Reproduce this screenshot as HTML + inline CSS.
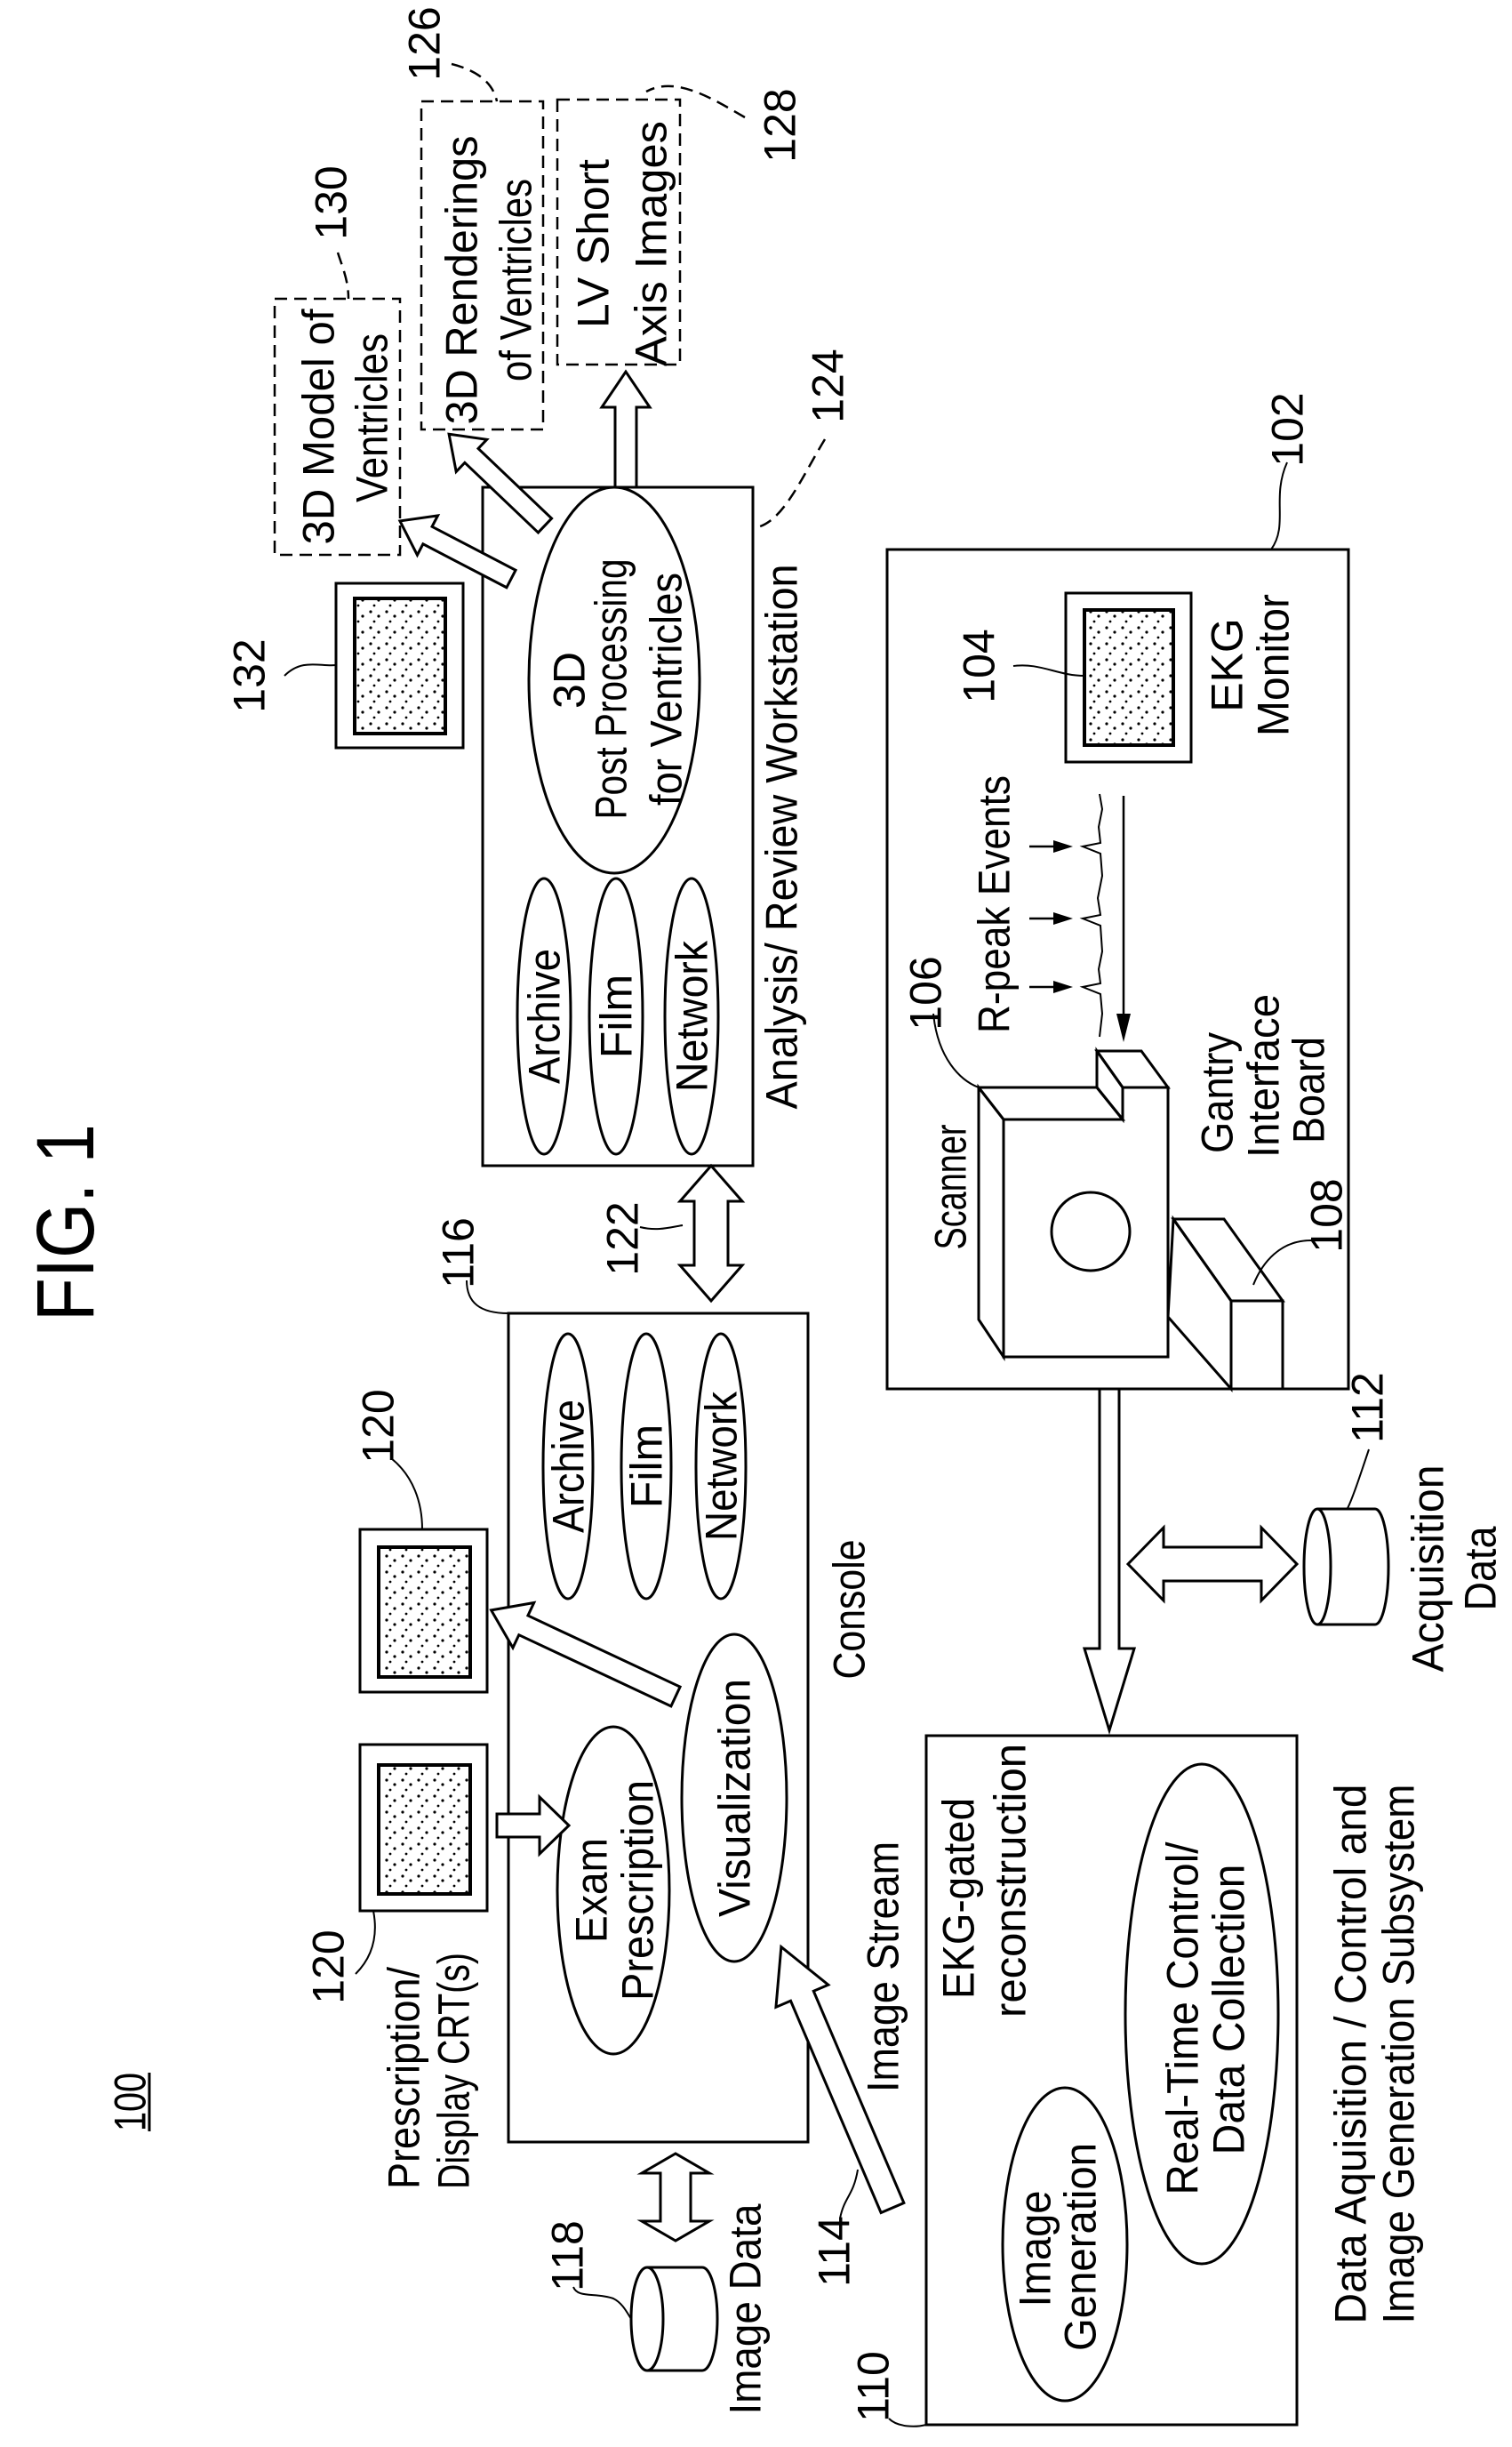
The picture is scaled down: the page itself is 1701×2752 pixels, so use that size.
<!DOCTYPE html>
<html><head><meta charset="utf-8"><style>
html,body{margin:0;padding:0;background:#fff}
svg{display:block}
text{font-family:"Liberation Sans",sans-serif;font-size:50px;fill:#000}
</style></head><body>
<svg width="1701" height="2752" viewBox="0 0 1701 2752" xmlns="http://www.w3.org/2000/svg">
<defs>
<pattern id="dots" width="18" height="18" patternUnits="userSpaceOnUse">
<rect width="18" height="18" fill="#fff"/>
<circle cx="3" cy="4" r="1.6" fill="#000"/><circle cx="12" cy="9" r="1.6" fill="#000"/><circle cx="7" cy="15" r="1.4" fill="#000"/>
</pattern>
</defs>
<g fill="none" stroke="#000" stroke-width="3">
<rect x="543" y="548" width="304" height="763"/>
<rect x="998" y="618" width="519" height="944"/>
<rect x="572" y="1477" width="337" height="932"/>
<rect x="1042" y="1952" width="417" height="775"/>
<g stroke-dasharray="14,8" stroke-width="2.5">
<rect x="309" y="336" width="141" height="288"/>
<rect x="474" y="114" width="137" height="369"/>
<rect x="627" y="112" width="138" height="298"/>
<path d="M380,284 C385,300 392,315 392,336"/>
<path d="M508,72 C540,80 555,95 559,114"/>
<path d="M838,132 C800,110 760,85 727,103"/>
<path d="M928,494 C900,540 880,590 847,594"/>
</g>
<ellipse cx="691" cy="765" rx="96" ry="217"/>
<ellipse cx="612" cy="1143" rx="30" ry="155"/>
<ellipse cx="693" cy="1143" rx="30" ry="155"/>
<ellipse cx="778" cy="1143" rx="30" ry="155"/>
<ellipse cx="639" cy="1649" rx="28" ry="149"/>
<ellipse cx="727" cy="1649" rx="28" ry="149"/>
<ellipse cx="811" cy="1649" rx="28" ry="149"/>
<ellipse cx="690" cy="2126" rx="63" ry="184"/>
<ellipse cx="826" cy="2022" rx="59" ry="184"/>
<ellipse cx="1198" cy="2524" rx="70" ry="176"/>
<ellipse cx="1352" cy="2265" rx="86" ry="281"/>
<rect x="378" y="656" width="143" height="185"/>
<rect x="399" y="673" width="102" height="152" fill="url(#dots)" stroke-width="4"/>
<rect x="1199" y="667" width="141" height="190"/>
<rect x="1220" y="686" width="100" height="152" fill="url(#dots)" stroke-width="4"/>
<rect x="405" y="1720" width="143" height="183"/>
<rect x="426" y="1740" width="103" height="146" fill="url(#dots)" stroke-width="4"/>
<rect x="405" y="1962" width="143" height="187"/>
<rect x="426" y="1985" width="103" height="145" fill="url(#dots)" stroke-width="4"/>
<g fill="#fff">
<polygon transform="translate(704,548) rotate(-90)" points="0,-12 90,-12 90,-27 130,0 90,27 90,12 0,12"/>
<polygon transform="translate(575,651) rotate(207.5)" points="0,-11 106,-11 106,-25 141,0 106,25 106,11 0,11"/>
<polygon transform="translate(613,591) rotate(223.6)" points="0,-11 114,-11 114,-25 149,0 114,25 114,11 0,11"/>
<polygon transform="translate(559,2053) rotate(0)" points="0,-13 48,-13 48,-32 81,0 48,32 48,13 0,13"/>
<polygon transform="translate(760,1908) rotate(205.1)" points="0,-12 189,-12 189,-28 229,0 189,28 189,12 0,12"/>
<polygon transform="translate(1004,2483) rotate(246.9)" points="0,-14 259,-14 259,-32 319,0 259,32 259,14 0,14"/>
<polygon transform="translate(1248,1562) rotate(90)" points="0,-11 292,-11 292,-28 384,0 292,28 292,11 0,11"/>
<polygon transform="translate(800,1311) rotate(90)" points="0,0 40,-35 40,-19 112,-19 112,-35 152,0 112,35 112,19 40,19 40,35"/>
<polygon transform="translate(760,2422) rotate(90)" points="0,0 22,-38 22,-17 76,-17 76,-38 98,0 76,38 76,17 22,17 22,38"/>
<polygon transform="translate(1269,1759) rotate(0)" points="0,0 40,-41 40,-19 150,-19 150,-41 190,0 150,41 150,19 40,19 40,41"/>
</g>
<path d="M728,2550 L790,2550 A17,58 0 0 1 790,2666 L728,2666"/>
<ellipse cx="728" cy="2608" rx="18" ry="58"/>
<path d="M1482,1697 L1547,1697 A15,65 0 0 1 1547,1827 L1482,1827"/>
<ellipse cx="1482" cy="1762" rx="15" ry="65"/>
<polygon points="1129,1259 1263,1259 1263,1223 1314,1223 1314,1526 1129,1526" fill="#fff"/>
<polygon points="1101,1223 1234,1223 1263,1259 1129,1259"/>
<polygon points="1101,1223 1129,1259 1129,1526 1101,1484"/>
<polygon points="1234,1182 1284,1182 1314,1223 1263,1223"/>
<polygon points="1234,1182 1234,1223 1263,1259 1263,1223"/>
<circle cx="1227" cy="1385" r="44"/>
<polygon points="1320,1371 1377,1371 1443,1463 1385,1463"/>
<polygon points="1320,1371 1385,1463 1385,1562 1314,1481"/>
<rect x="1385" y="1463" width="58" height="99"/>
<polyline stroke-width="2" points="1237,893 1240,910 1236,930 1238,948 1218,952 1238,960 1240,985 1235,1010 1238,1029 1218,1033 1238,1041 1240,1070 1236,1090 1238,1106 1218,1110 1238,1118 1240,1140 1237,1166"/>
<line x1="1264" y1="895" x2="1264" y2="1150" stroke-width="2.5"/>
<g stroke-width="2.5"><line x1="1158" y1="952" x2="1190" y2="952"/><line x1="1158" y1="1033" x2="1190" y2="1033"/><line x1="1158" y1="1110" x2="1190" y2="1110"/></g>
<g stroke-width="2">
<path d="M320,760 C340,740 360,750 378,748"/>
<path d="M1448,520 C1430,560 1450,590 1430,618"/>
<path d="M1140,749 C1170,745 1190,760 1220,760"/>
<path d="M1050,1140 C1055,1190 1080,1215 1101,1223"/>
<path d="M1475,1395 C1440,1395 1420,1420 1410,1445"/>
<path d="M720,1380 C740,1385 755,1380 768,1378"/>
<path d="M525,1440 C525,1465 540,1477 572,1477"/>
<path d="M440,1640 C465,1660 475,1690 475,1720"/>
<path d="M400,2220 C420,2200 425,2175 420,2149"/>
<path d="M645,2572 C650,2585 670,2578 690,2585 C700,2590 705,2600 710,2608"/>
<path d="M945,2495 C950,2470 960,2470 965,2440"/>
<path d="M1000,2720 C1010,2730 1030,2730 1042,2727"/>
<path d="M1540,1630 C1530,1660 1520,1690 1515,1698"/>
<line x1="168" y1="2331" x2="168" y2="2397" stroke-width="3"/>
</g>
</g>
<g fill="#000">
<polygon points="1264,1172 1256,1140 1272,1140"/>
<polygon points="1207,952 1185,945 1185,959"/>
<polygon points="1207,1033 1185,1026 1185,1040"/>
<polygon points="1207,1110 1185,1103 1185,1117"/>
</g>
<g text-anchor="middle">
<text transform="translate(73,1375) rotate(-90)" dy=".35em" style="font-size:92px" textLength="222" lengthAdjust="spacingAndGlyphs">FIG. 1</text>
<text transform="translate(146,2364) rotate(-90)" dy=".35em" textLength="66" lengthAdjust="spacingAndGlyphs">100</text>
<text transform="translate(358,480) rotate(-90)" dy=".35em" textLength="265" lengthAdjust="spacingAndGlyphs">3D Model of</text>
<text transform="translate(418,470) rotate(-90)" dy=".35em" textLength="190" lengthAdjust="spacingAndGlyphs">Ventricles</text>
<text transform="translate(519,315) rotate(-90)" dy=".35em" textLength="325" lengthAdjust="spacingAndGlyphs">3D Renderings</text>
<text transform="translate(580,315) rotate(-90)" dy=".35em" textLength="228" lengthAdjust="spacingAndGlyphs">of Ventricles</text>
<text transform="translate(667,274) rotate(-90)" dy=".35em" textLength="190" lengthAdjust="spacingAndGlyphs">LV Short</text>
<text transform="translate(732,274) rotate(-90)" dy=".35em" textLength="276" lengthAdjust="spacingAndGlyphs">Axis Images</text>
<text transform="translate(372,228) rotate(-90)" dy=".35em">130</text>
<text transform="translate(477,49) rotate(-90)" dy=".35em">126</text>
<text transform="translate(877,141) rotate(-90)" dy=".35em">128</text>
<text transform="translate(931,434) rotate(-90)" dy=".35em">124</text>
<text transform="translate(1448,483) rotate(-90)" dy=".35em">102</text>
<text transform="translate(280,760) rotate(-90)" dy=".35em">132</text>
<text transform="translate(640,765) rotate(-90)" dy=".35em">3D</text>
<text transform="translate(687,775) rotate(-90)" dy=".35em" textLength="293" lengthAdjust="spacingAndGlyphs">Post Processing</text>
<text transform="translate(749,775) rotate(-90)" dy=".35em" textLength="262" lengthAdjust="spacingAndGlyphs">for Ventricles</text>
<text transform="translate(612,1143) rotate(-90)" dy=".35em" textLength="152" lengthAdjust="spacingAndGlyphs">Archive</text>
<text transform="translate(693,1143) rotate(-90)" dy=".35em">Film</text>
<text transform="translate(778,1143) rotate(-90)" dy=".35em" textLength="170" lengthAdjust="spacingAndGlyphs">Network</text>
<text transform="translate(879,941) rotate(-90)" dy=".35em" textLength="613" lengthAdjust="spacingAndGlyphs">Analysis/ Review Workstation</text>
<text transform="translate(700,1393) rotate(-90)" dy=".35em">122</text>
<text transform="translate(1101,749) rotate(-90)" dy=".35em">104</text>
<text transform="translate(1380,748) rotate(-90)" dy=".35em">EKG</text>
<text transform="translate(1432,748) rotate(-90)" dy=".35em" textLength="160" lengthAdjust="spacingAndGlyphs">Monitor</text>
<text transform="translate(1118,1017) rotate(-90)" dy=".35em" textLength="290" lengthAdjust="spacingAndGlyphs">R-peak Events</text>
<text transform="translate(1041,1117) rotate(-90)" dy=".35em">106</text>
<text transform="translate(1069,1335) rotate(-90)" dy=".35em" textLength="141" lengthAdjust="spacingAndGlyphs">Scanner</text>
<text transform="translate(1369,1229) rotate(-90)" dy=".35em" textLength="136" lengthAdjust="spacingAndGlyphs">Gantry</text>
<text transform="translate(1421,1210) rotate(-90)" dy=".35em" textLength="184" lengthAdjust="spacingAndGlyphs">Interface</text>
<text transform="translate(1472,1226) rotate(-90)" dy=".35em" textLength="120" lengthAdjust="spacingAndGlyphs">Board</text>
<text transform="translate(1492,1367) rotate(-90)" dy=".35em">108</text>
<text transform="translate(515,1409) rotate(-90)" dy=".35em">116</text>
<text transform="translate(425,1604) rotate(-90)" dy=".35em">120</text>
<text transform="translate(369,2212) rotate(-90)" dy=".35em">120</text>
<text transform="translate(639,1649) rotate(-90)" dy=".35em" textLength="150" lengthAdjust="spacingAndGlyphs">Archive</text>
<text transform="translate(727,1649) rotate(-90)" dy=".35em">Film</text>
<text transform="translate(811,1649) rotate(-90)" dy=".35em" textLength="168" lengthAdjust="spacingAndGlyphs">Network</text>
<text transform="translate(955,1810) rotate(-90)" dy=".35em" textLength="157" lengthAdjust="spacingAndGlyphs">Console</text>
<text transform="translate(665,2126) rotate(-90)" dy=".35em" textLength="118" lengthAdjust="spacingAndGlyphs">Exam</text>
<text transform="translate(717,2126) rotate(-90)" dy=".35em" textLength="248" lengthAdjust="spacingAndGlyphs">Prescription</text>
<text transform="translate(826,2022) rotate(-90)" dy=".35em" textLength="268" lengthAdjust="spacingAndGlyphs">Visualization</text>
<text transform="translate(454,2337) rotate(-90)" dy=".35em" textLength="250" lengthAdjust="spacingAndGlyphs">Prescription/</text>
<text transform="translate(510,2329) rotate(-90)" dy=".35em" textLength="266" lengthAdjust="spacingAndGlyphs">Display CRT(s)</text>
<text transform="translate(638,2537) rotate(-90)" dy=".35em">118</text>
<text transform="translate(838,2597) rotate(-90)" dy=".35em" textLength="237" lengthAdjust="spacingAndGlyphs">Image Data</text>
<text transform="translate(938,2532) rotate(-90)" dy=".35em">114</text>
<text transform="translate(993,2212) rotate(-90)" dy=".35em" textLength="282" lengthAdjust="spacingAndGlyphs">Image Stream</text>
<text transform="translate(982,2684) rotate(-90)" dy=".35em">110</text>
<text transform="translate(1078,2135) rotate(-90)" dy=".35em" textLength="226" lengthAdjust="spacingAndGlyphs">EKG-gated</text>
<text transform="translate(1136,2115) rotate(-90)" dy=".35em" textLength="308" lengthAdjust="spacingAndGlyphs">reconstruction</text>
<text transform="translate(1164,2529) rotate(-90)" dy=".35em" textLength="131" lengthAdjust="spacingAndGlyphs">Image</text>
<text transform="translate(1215,2527) rotate(-90)" dy=".35em" textLength="234" lengthAdjust="spacingAndGlyphs">Generation</text>
<text transform="translate(1330,2270) rotate(-90)" dy=".35em" textLength="397" lengthAdjust="spacingAndGlyphs">Real-Time Control/</text>
<text transform="translate(1382,2260) rotate(-90)" dy=".35em" textLength="327" lengthAdjust="spacingAndGlyphs">Data Collection</text>
<text transform="translate(1519,2310) rotate(-90)" dy=".35em" textLength="607" lengthAdjust="spacingAndGlyphs">Data Aquisition / Control and</text>
<text transform="translate(1573,2310) rotate(-90)" dy=".35em" textLength="607" lengthAdjust="spacingAndGlyphs">Image Generation Subsystem</text>
<text transform="translate(1538,1583) rotate(-90)" dy=".35em">112</text>
<text transform="translate(1606,1764) rotate(-90)" dy=".35em" textLength="233" lengthAdjust="spacingAndGlyphs">Acquisition</text>
<text transform="translate(1665,1764) rotate(-90)" dy=".35em" textLength="95" lengthAdjust="spacingAndGlyphs">Data</text>
</g>
</svg>
</body></html>
